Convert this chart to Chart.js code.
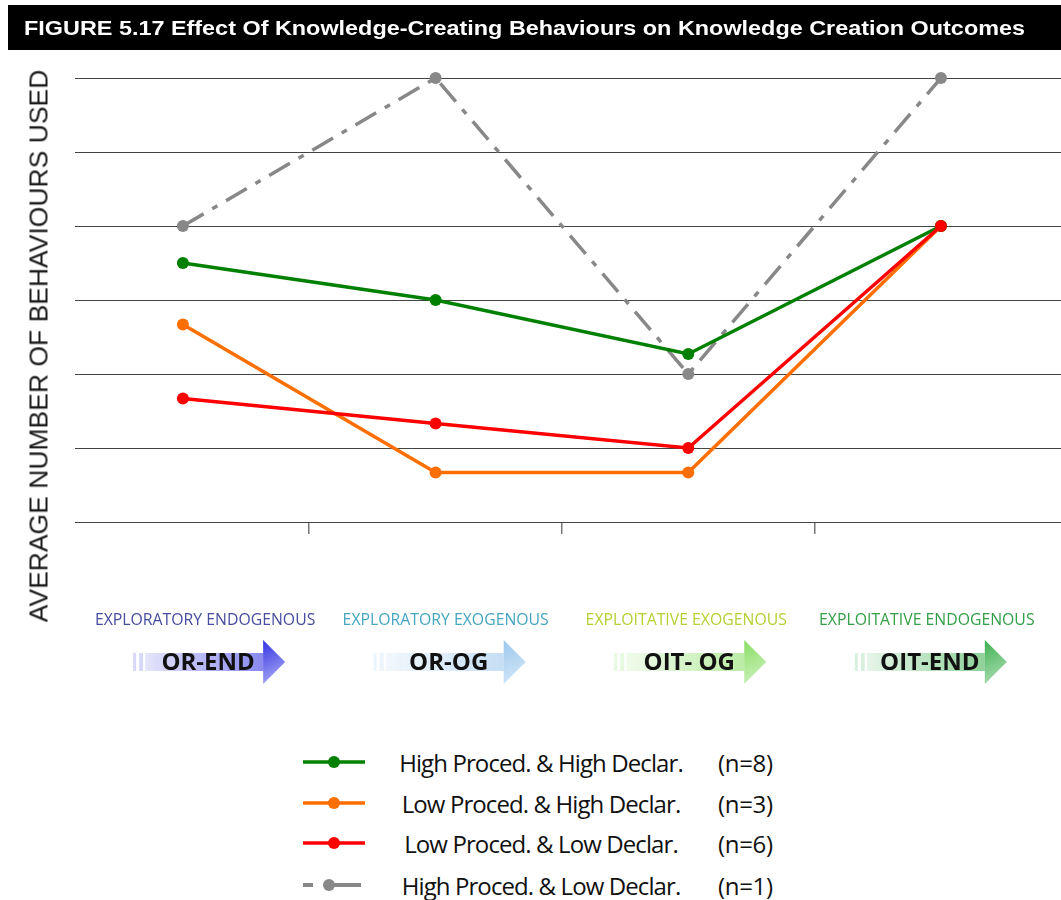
<!DOCTYPE html>
<html>
<head>
<meta charset="utf-8">
<script src="https://cdn.jsdelivr.net/npm/chart.js@4"></script>
<style>
  body { margin:0; background:#fff; width:1061px; height:900px; position:relative; overflow:hidden; font-family:"Liberation Sans", Arial, sans-serif; }
  #wrap { position:absolute; left:0; top:0; width:1061px; height:720px; }
  #title { position:absolute; left:8px; top:5px; width:1053px; height:45px; background:#000; color:#fff;
           font-weight:bold; font-size:20px; line-height:46px; white-space:nowrap; }
  #title span { position:absolute; left:16px; transform-origin:0 50%; }
  #ylab { position:absolute; left:39px; top:346px; transform:translate(-50%,-50%) rotate(-90deg);
          font-size:26.5px; color:#1a1a1a; white-space:nowrap; }
  .row { position:absolute; left:0; width:1061px; height:30px; }
  .row canvas { position:absolute; left:298px; top:0; }
  .row .name { position:absolute; left:541px; top:15px; transform:translate(-50%,-50%); font-family:"Open Sans", sans-serif;
               font-size:24px; letter-spacing:-0.9px; color:#111; white-space:nowrap; }
  .row .n { position:absolute; left:718px; top:15px; transform:translateY(-50%); font-family:"Open Sans", sans-serif;
            font-size:24px; letter-spacing:-0.3px; color:#111; white-space:nowrap; }
</style>
</head>
<body>
<div id="wrap"><canvas id="chart" width="1061" height="720"></canvas></div>
<div id="title"><span id="titleText">FIGURE 5.17 Effect Of Knowledge-Creating Behaviours on Knowledge Creation Outcomes</span></div>
<div id="ylab">AVERAGE NUMBER OF BEHAVIOURS USED</div>
<div id="legend"></div>
<script>
// categories (knowledge creation outcomes)
const outcomeCodes = ['OR-END', 'OR-OG', 'OIT- OG', 'OIT-END'];
const outcomeNames = ['EXPLORATORY ENDOGENOUS', 'EXPLORATORY EXOGENOUS', 'EXPLOITATIVE EXOGENOUS', 'EXPLOITATIVE ENDOGENOUS'];

// average number of behaviours used, per group
const highProcHighDecl = [3.5, 3.0, 2.27, 4.0];
const lowProcHighDecl = [2.67, 0.67, 0.67, 4.0];
const lowProcLowDecl = [1.67, 1.33, 1.0, 4.0];
const highProcLowDecl = [4.0, 6.0, 2.0, 6.0];

const seriesNames = ['High Proced. & High Declar.', 'Low Proced. & High Declar.', 'Low Proced. & Low Declar.', 'High Proced. & Low Declar.'];
const groupSizes = [8, 3, 6, 1];

const yTicks = [0, 1, 2, 3, 4, 5, 6];

const colors = ['#008000', '#ff6f00', '#ff0000', '#888888'];
const dashes = [[], [], [], [24, 10, 6, 10]];
const seriesValues = [highProcHighDecl, lowProcHighDecl, lowProcLowDecl, highProcLowDecl];
const drawOrder = [2, 3, 0, 4];

const labelColors = ['#464c9e', '#45a6c0', '#b6d034', '#33a048'];
const arrowColors = [[40, 40, 225], [150, 196, 236], [130, 220, 90], [50, 172, 70]];

// stretch the title to the width of the original banner
const tt = document.getElementById('titleText');
tt.style.transform = 'scaleX(' + (1001 / tt.getBoundingClientRect().width) + ')';

function toPoints(vals) {
  return vals.map((v, i) => ({ x: i + 1, y: v }));
}

const datasets = seriesValues.map((vals, k) => ({
  label: seriesNames[k],
  data: toPoints(vals),
  borderColor: colors[k],
  backgroundColor: colors[k],
  borderWidth: 3.5,
  borderDash: dashes[k],
  pointRadius: 6,
  pointBorderWidth: 0,
  pointBackgroundColor: colors[k],
  clip: false,
  order: drawOrder[k],
  tension: 0
}));

function rgba(c, a) { return 'rgba(' + c[0] + ',' + c[1] + ',' + c[2] + ',' + a + ')'; }

function drawArrow(ctx, cx, cy, col) {
  const x0 = cx - 72, bodyEnd = cx + 58, tip = cx + 80;
  // faded stub marks at the tail
  ctx.fillStyle = rgba(col, 0.18);
  ctx.fillRect(x0, cy - 9, 3, 18);
  ctx.fillRect(x0 + 6, cy - 9, 4, 18);
  // body
  let g = ctx.createLinearGradient(x0 + 12, 0, bodyEnd, 0);
  g.addColorStop(0, rgba(col, 0.12));
  g.addColorStop(1, rgba(col, 0.55));
  ctx.fillStyle = g;
  ctx.fillRect(x0 + 12, cy - 9, bodyEnd - x0 - 12, 18);
  // head
  g = ctx.createLinearGradient(bodyEnd, cy - 22, tip, cy + 22);
  g.addColorStop(0, rgba(col, 0.95));
  g.addColorStop(1, rgba(col, 0.35));
  ctx.fillStyle = g;
  ctx.beginPath();
  ctx.moveTo(bodyEnd, cy - 22);
  ctx.lineTo(tip, cy);
  ctx.lineTo(bodyEnd, cy + 22);
  ctx.closePath();
  ctx.fill();
}

const outcomeLabels = {
  id: 'outcomeLabels',
  afterDraw(chart) {
    const ctx = chart.ctx;
    const xs = chart.scales.x;
    ctx.save();
    outcomeCodes.forEach((code, i) => {
      const px = xs.getPixelForValue(i + 1);
      const cx = px * 0.952 + 31;
      ctx.font = '15.8px "Open Sans", sans-serif';
      ctx.fillStyle = labelColors[i];
      ctx.textAlign = 'center';
      ctx.textBaseline = 'middle';
      ctx.fillText(outcomeNames[i], cx, 620);
      drawArrow(ctx, cx, 662, arrowColors[i]);
      ctx.font = 'bold 24px "Open Sans", sans-serif';
      ctx.fillStyle = '#111';
      ctx.fillText(code, cx + 3, 663);
    });
    ctx.restore();
  }
};

new Chart(document.getElementById('chart').getContext('2d'), {
  type: 'line',
  data: { datasets: datasets },
  options: {
    responsive: false,
    animation: false,
    layout: { autoPadding: false, padding: { left: 75, top: 78, right: 0, bottom: 186 } },
    plugins: { legend: { display: false }, tooltip: { enabled: false } },
    scales: {
      x: {
        type: 'linear',
        min: 0.573,
        max: 4.475,
        afterBuildTicks: s => { s.ticks = [1.5, 2.5, 3.5].map(v => ({ value: v })); },
        afterFit: s => { s.height = 12; },
        ticks: { display: false },
        grid: { drawOnChartArea: false, tickLength: 12, color: '#777', lineWidth: 1.5 },
        border: { display: false }
      },
      y: {
        min: 0,
        max: 6,
        afterBuildTicks: s => { s.ticks = yTicks.map(v => ({ value: v })); },
        afterFit: s => { s.width = 0; },
        ticks: { display: false },
        grid: { color: '#444', lineWidth: 1, drawTicks: false },
        border: { display: false }
      }
    }
  },
  plugins: [outcomeLabels]
});

// legend
const legend = document.getElementById('legend');
const rowY = [762, 803, 843, 885];
seriesNames.forEach((name, k) => {
  const row = document.createElement('div');
  row.className = 'row';
  row.style.top = (rowY[k] - 15) + 'px';
  const c = document.createElement('canvas');
  c.width = 75; c.height = 30;
  const g = c.getContext('2d');
  g.strokeStyle = colors[k];
  g.fillStyle = colors[k];
  g.lineWidth = 3.5;
  if (dashes[k].length) {
    g.lineWidth = 4;
    g.beginPath(); g.moveTo(5, 15); g.lineTo(15, 15); g.stroke();
    g.beginPath(); g.moveTo(30, 15); g.lineTo(63, 15); g.stroke();
    g.beginPath(); g.arc(31, 15, 6, 0, Math.PI * 2); g.fill();
  } else {
    g.beginPath(); g.moveTo(5, 15); g.lineTo(67, 15); g.stroke();
    g.beginPath(); g.arc(36, 15, 6, 0, Math.PI * 2); g.fill();
  }
  row.appendChild(c);
  const t = document.createElement('div');
  t.className = 'name';
  t.textContent = name;
  row.appendChild(t);
  const n = document.createElement('div');
  n.className = 'n';
  n.textContent = '(n=' + groupSizes[k] + ')';
  row.appendChild(n);
  legend.appendChild(row);
});
</script>
</body>
</html>
